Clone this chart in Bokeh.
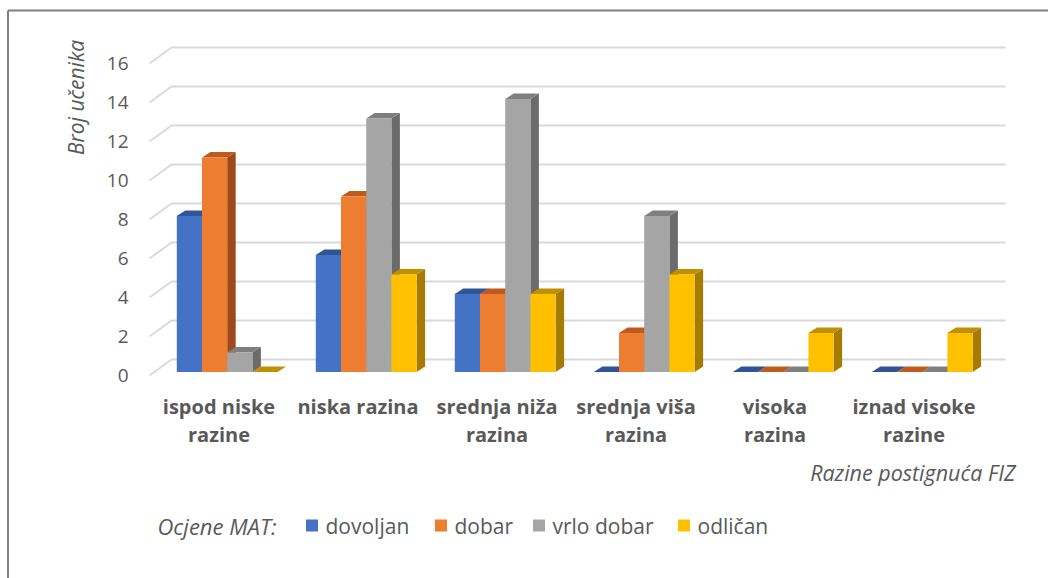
import math
from bokeh.plotting import figure
from bokeh.models import Range1d
from bokeh.core.properties import value
from bokeh.embed import file_html
from bokeh.resources import INLINE

# ---------------- data ----------------
categories = ["ispod niske\nrazine", "niska razina", "srednja niža\nrazina",
              "srednja viša\nrazina", "visoka\nrazina", "iznad visoke\nrazine"]
series_names = ["dovoljan", "dobar", "vrlo dobar", "odličan"]
dovoljan = [8, 6, 4, 0, 0, 0]
dobar = [11, 9, 4, 2, 0, 0]
vrlo_dobar = [1, 13, 14, 8, 0, 0]
odlican = [0, 5, 4, 5, 2, 2]
y_ticks = [0, 2, 4, 6, 8, 10, 12, 14, 16]
y_title = "Broj učenika"
x_title = "Razine postignuća FIZ"
legend_title = "Ocjene MAT:"

series = [dovoljan, dobar, vrlo_dobar, odlican]

# ---------------- style ----------------
front_colors = ["#4472C4", "#ED7D31", "#A5A5A5", "#FFC000"]
top_colors = ["#2F5597", "#BE5A1E", "#7F7F7F", "#C09000"]
side_colors = ["#2A4D8C", "#9C4A1B", "#6B6B6B", "#A67C00"]
TXT = "#595959"
FONT = value("Open Sans")

W, H = 1048, 578
SLOT_PX = 139.0      # px per category slot
UNIT_PX = 19.5       # px per value unit
X0_PX = 149.0        # canvas x of the front-left corner of category axis
Y0_PX = 371.5        # canvas y of the bar baseline


def ux(px):
    return px / SLOT_PX


def uy(px):
    return px / UNIT_PX


p = figure(width=W, height=H,
           x_range=Range1d(-X0_PX / SLOT_PX, (W - X0_PX) / SLOT_PX),
           y_range=Range1d(-(H - Y0_PX) / UNIT_PX, Y0_PX / UNIT_PX),
           x_axis_type=None, y_axis_type=None,
           toolbar_location=None, output_backend="svg",
           min_border=0, outline_line_color=None)
p.background_fill_color = "white"
p.border_fill_color = "white"

n = len(categories)

# chart border (top & left visible)
yb = p.y_range.start
xr = p.x_range.end
bx = ux(7.5 - X0_PX)
by = uy(Y0_PX - 10)
p.line([bx, bx], [yb, by], line_color="#7F7F7F", line_width=2)
p.line([bx, xr], [by, by], line_color="#7F7F7F", line_width=2)

# 3D gridlines (front diagonal + back wall)
front_off = uy(-3.5)
back_off = uy(12.5)
depth_x = ux(22)
gx = [[0, depth_x, n + depth_x] for t in y_ticks]
gy = [[t + front_off, t + back_off, t + back_off] for t in y_ticks]
p.multi_line(gx, gy, line_color="#D9D9D9", line_width=2)

# bars
BAR_OFF = ux(27.3)
BAR_W = ux(25.2)
DX = ux(8.5)
DY = uy(5.5)
for k, vals in enumerate(series):
    x0 = [i + BAR_OFF + k * BAR_W for i in range(n)]
    x1 = [a + BAR_W for a in x0]
    side_xs = [[b, b + DX, b + DX, b] for b in x1]
    side_ys = [[0, DY, v + DY, v] for v in vals]
    top_xs = [[a, b, b + DX, a + DX] for a, b in zip(x0, x1)]
    top_ys = [[v, v, v + DY, v + DY] for v in vals]
    p.patches(side_xs, side_ys, fill_color=side_colors[k], line_color=None)
    p.patches(top_xs, top_ys, fill_color=top_colors[k], line_color=None)
    p.quad(left=x0, right=x1, bottom=[0] * n, top=vals,
           fill_color=front_colors[k], line_color=None)

# y tick labels
p.text(x=[ux(-21)] * len(y_ticks), y=[t + front_off for t in y_ticks],
       text=[str(t) for t in y_ticks], text_align="right", text_baseline="middle",
       text_font=FONT, text_font_size="19px", text_color=TXT)

# y title
p.text(x=[ux(-74)], y=[uy(Y0_PX - 97)], text=[y_title], angle=math.pi / 2,
       text_align="center", text_baseline="middle", text_font=FONT,
       text_font_style="italic", text_font_size="21px", text_color=TXT)

# category labels
line1 = [c.split("\n")[0] for c in categories]
line2 = [c.split("\n")[1] if "\n" in c else "" for c in categories]
cx = [i + 0.5 for i in range(n)]
p.text(x=cx, y=[uy(-34.5)] * n, text=line1, text_align="center", text_baseline="middle",
       text_font=FONT, text_font_style="bold", text_font_size="20px", text_color=TXT)
p.text(x=cx, y=[uy(-62.5)] * n, text=line2, text_align="center", text_baseline="middle",
       text_font=FONT, text_font_style="bold", text_font_size="20px", text_color=TXT)

# x title
p.text(x=[ux(866)], y=[uy(-100.5)], text=[x_title], text_align="right", text_baseline="middle",
       text_font=FONT, text_font_style="italic", text_font_size="21.5px", text_color=TXT)

# legend
ly = uy(-153.5)
p.text(x=[ux(8)], y=[ly], text=[legend_title], text_align="left", text_baseline="middle",
       text_font=FONT, text_font_style="italic", text_font_size="22px", text_color=TXT)
sq_x = [ux(162.5), ux(291.5), ux(389.5), ux(534.5)]
p.rect(x=sq_x, y=[ly] * 4, width=12, height=12, width_units="screen", height_units="screen",
       fill_color=front_colors, line_color=None)
p.text(x=[s + ux(13.5) for s in sq_x], y=[ly] * 4, text=series_names, text_align="left",
       text_baseline="middle", text_font=FONT, text_font_size="21px", text_color=TXT)

open("out.html", "w").write(file_html(p, INLINE))
